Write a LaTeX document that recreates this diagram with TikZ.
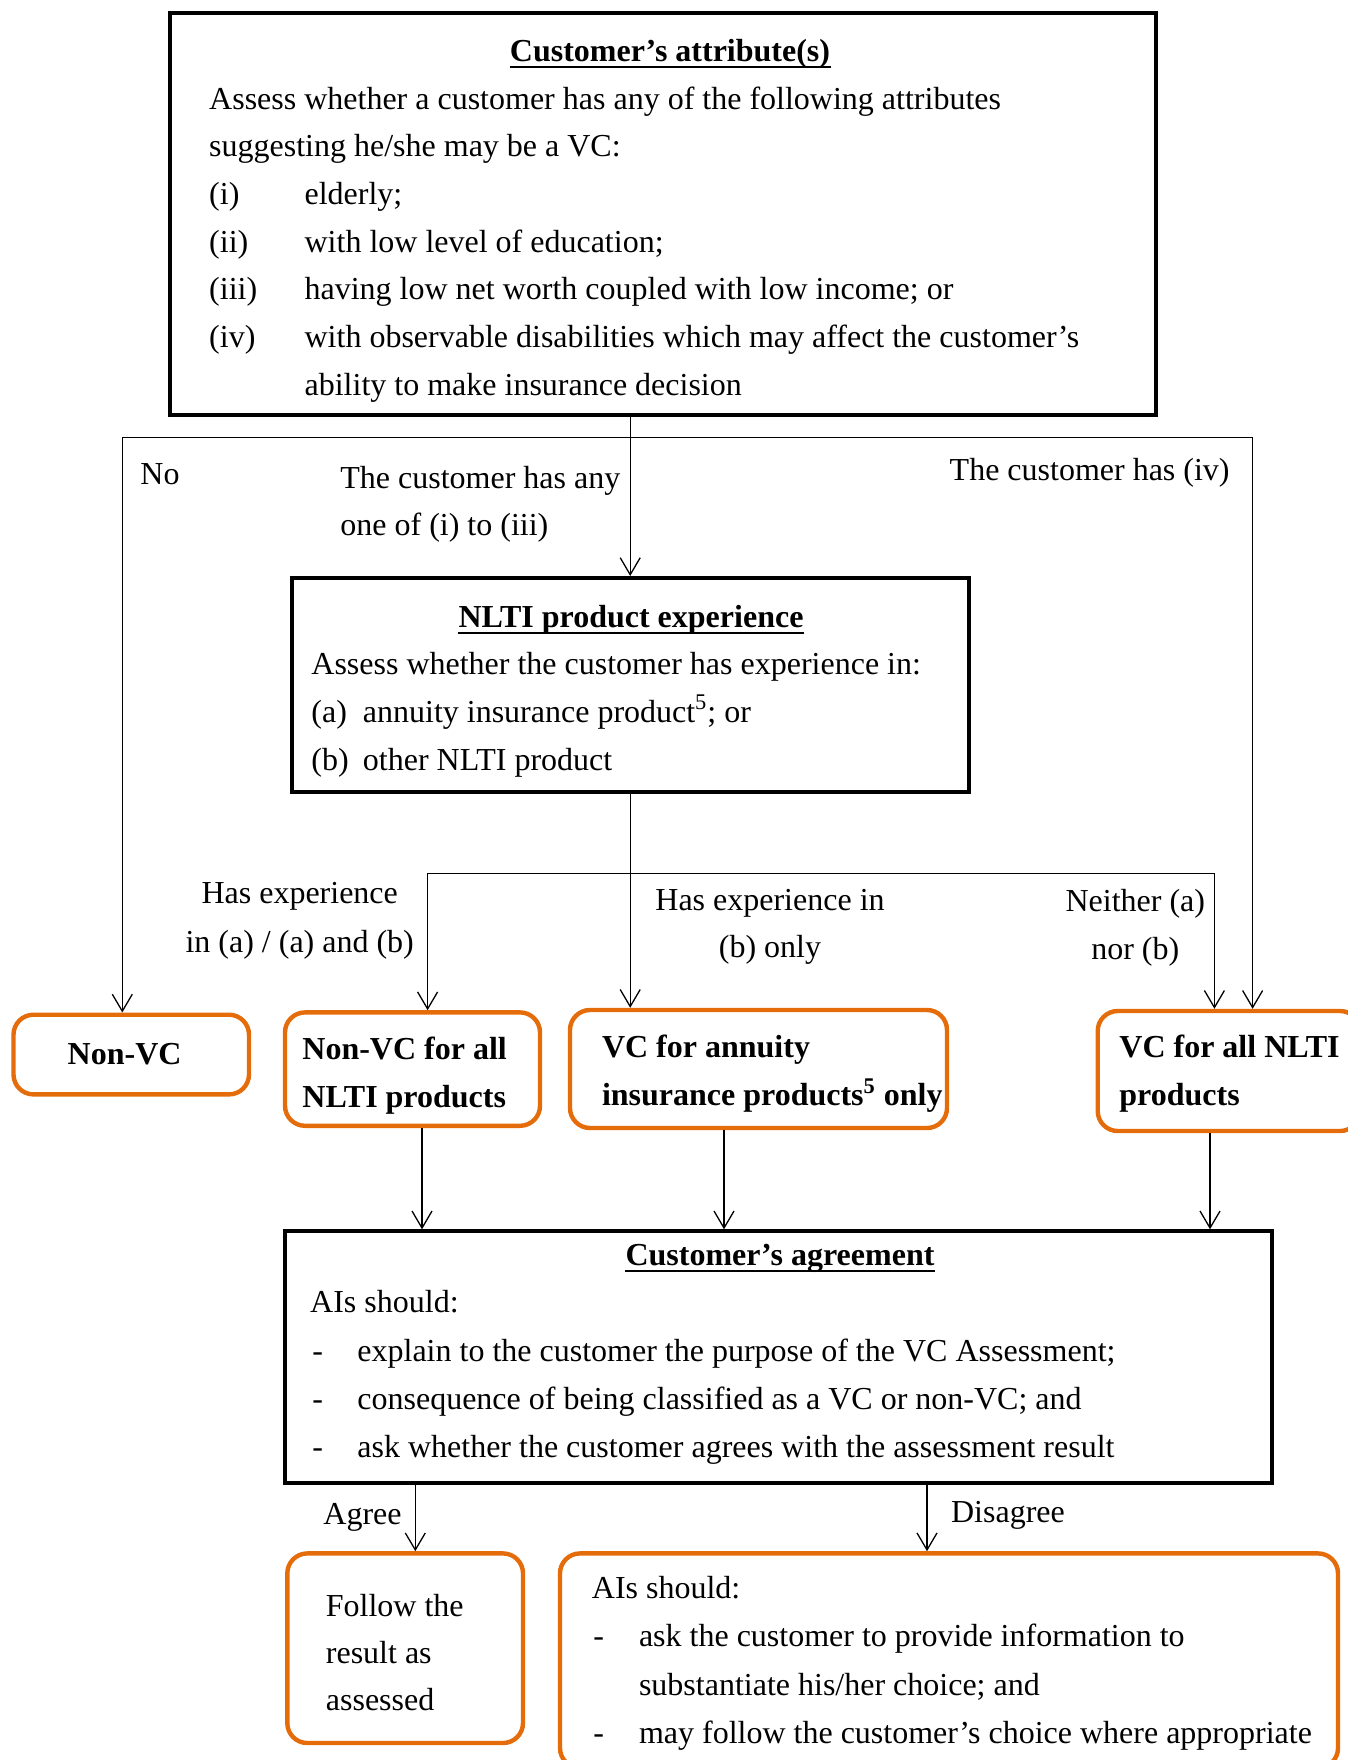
\documentclass[tikz,border=0pt]{standalone}
\usepackage{fontspec}
\setmainfont{Liberation Serif}
\usetikzlibrary{arrows.meta,fit}
\definecolor{boxorange}{RGB}{228,108,10}
\begin{document}
\begin{tikzpicture}[x=0.5pt,y=-0.5pt,
  blackbox/.style={draw=black, line width=2pt, inner sep=0pt},
  orangebox/.style={draw=boxorange, line width=2.2pt, rounded corners=10pt, inner sep=0pt},
  conn/.style={line width=0.65pt},
  arr/.style={conn, -{Straight Barb[length=8.5pt,width=10pt,line width=0.65pt]}},
  txt/.style={inner sep=0pt, anchor=base west, yshift=-1.25pt, font=\fontsize{16}{19}\selectfont},
  ctxt/.style={txt, anchor=base},
  rtxt/.style={txt, anchor=base east},
  btxt/.style={txt, font=\fontsize{16}{19}\selectfont\bfseries},
  titletxt/.style={ctxt, font=\fontsize{16}{19}\selectfont\bfseries},
  ul/.style={line width=0.8pt},
]
\useasboundingbox (0,0) rectangle (1348,1760);
\clip (0,0) rectangle (1348,1760);

% ---------- boxes ----------
\node[blackbox, fit={(169.5,13.5) (1156,415.3)}] (attr) {};
\node[blackbox, fit={(291.8,578) (968.6,792.4)}] (nlti) {};
\node[orangebox, fit={(13.5,1014.7) (249,1094.4)}] (nonvc) {};
\node[orangebox, fit={(285,1012.4) (540,1125.8)}] (nonvcall) {};
\node[orangebox, fit={(570,1010) (947,1128)}] (vcann) {};
\node[orangebox, fit={(1097.7,1011) (1360,1131)}] (vcall) {};
\node[blackbox, fit={(285,1231.3) (1271.7,1482.7)}] (agree) {};
\node[orangebox, fit={(287.3,1553.4) (523,1743)}] (follow) {};
\node[orangebox, fit={(560,1553.4) (1338,1768)}] (ais) {};

% ---------- top box text ----------
\node[titletxt] (attrT) at (670,58.9) {Customer’s attribute(s)};
\draw[ul] ([yshift=-2.8pt]attrT.base west) -- ([yshift=-2.8pt]attrT.base east);
\node[txt] (attr1) at (208.8,106.6) {Assess whether a customer has any of the following attributes};
\node[txt] (attr2) at (208.8,154.3) {suggesting he/she may be a VC:};
\node[txt] (attr3n) at (208.8,202) {(i)};
\node[txt] (attr3) at (304.2,202) {elderly;};
\node[txt] (attr4n) at (208.8,249.7) {(ii)};
\node[txt] (attr4) at (304.2,249.7) {with low level of education;};
\node[txt] (attr5n) at (208.8,297.4) {(iii)};
\node[txt] (attr5) at (304.2,297.4) {having low net worth coupled with low income; or};
\node[txt] (attr6n) at (208.8,345.1) {(iv)};
\node[txt] (attr6) at (304.2,345.1) {with observable disabilities which may affect the customer’s};
\node[txt] (attr7) at (304.2,392.8) {ability to make insurance decision};

% ---------- branch labels 1 ----------
\node[txt] (lNo) at (140,481.5) {No};
\node[txt] (lAny1) at (340,486) {The customer has any};
\node[txt] (lAny2) at (340,533) {one of (i) to (iii)};
\node[rtxt] (lIv) at (1230,478) {The customer has (iv)};

% ---------- NLTI box text ----------
\node[titletxt] (nltiT) at (631,625) {NLTI product experience};
\draw[ul] ([yshift=-2.8pt]nltiT.base west) -- ([yshift=-2.8pt]nltiT.base east);
\node[txt] (nlti1) at (311,672.3) {Assess whether the customer has experience in:};
\node[txt] (nlti2n) at (311,720) {(a)};
\node[txt] (nlti2) at (362.5,720) {annuity insurance product\textsuperscript{5}; or};
\node[txt] (nlti3n) at (311,767.7) {(b)};
\node[txt] (nlti3) at (362.5,767.7) {other NLTI product};

% ---------- branch labels 2 ----------
\node[ctxt] (lA1) at (299.7,901.3) {Has experience};
\node[ctxt] (lA2) at (299.7,949.6) {in (a) / (a) and (b)};
\node[ctxt] (lB1) at (770,908) {Has experience in};
\node[ctxt] (lB2) at (770,955) {(b) only};
\node[ctxt] (lC1) at (1135.3,909) {Neither (a)};
\node[ctxt] (lC2) at (1135.3,957.4) {nor (b)};

% ---------- orange box text ----------
\node[btxt, anchor=base] (nonvcT) at (124.6,1061.8) {Non-VC};
\node[btxt] (nonvcall1) at (302,1057.3) {Non-VC for all};
\node[btxt] (nonvcall2) at (302,1104.5) {NLTI products};
\node[btxt] (vcann1) at (601.6,1055) {VC for annuity};
\node[btxt] (vcann2) at (601.6,1103.3) {insurance products\textsuperscript{5} only};
\node[btxt] (vcall1) at (1119,1055) {VC for all NLTI};
\node[btxt] (vcall2) at (1119,1103.3) {products};

% ---------- agreement box text ----------
\node[titletxt] (agreeT) at (780,1262.7) {Customer’s agreement};
\draw[ul] ([yshift=-2.8pt]agreeT.base west) -- ([yshift=-2.8pt]agreeT.base east);
\node[txt] (agree1) at (309.8,1309.9) {AIs should:};
\node[txt] (agree2d) at (312,1359) {-};
\node[txt] (agree2) at (357,1359) {explain to the customer the purpose of the VC Assessment;};
\node[txt] (agree3d) at (312,1407) {-};
\node[txt] (agree3) at (357,1407) {consequence of being classified as a VC or non-VC; and};
\node[txt] (agree4d) at (312,1455) {-};
\node[txt] (agree4) at (357,1455) {ask whether the customer agrees with the assessment result};

% ---------- bottom labels ----------
\node[rtxt] (lAgree) at (402,1522) {Agree};
\node[txt] (lDisagree) at (950.7,1519.8) {Disagree};

% ---------- bottom boxes text ----------
\node[txt] (follow1) at (325.5,1614) {Follow the};
\node[txt] (follow2) at (325.5,1661) {result as};
\node[txt] (follow3) at (325.5,1708) {assessed};
\node[txt] (ais1) at (591.5,1596) {AIs should:};
\node[txt] (ais2d) at (593,1644.4) {-};
\node[txt] (ais2) at (638.6,1644.4) {ask the customer to provide information to};
\node[txt] (ais3) at (638.6,1692.6) {substantiate his/her choice; and};
\node[txt] (ais4d) at (593,1741) {-};
\node[txt] (ais4) at (638.6,1741) {may follow the customer’s choice where appropriate};

% ---------- connectors ----------
\coordinate (jl) at (122.3,437.7);
\coordinate (jr) at (1252.6,437.7);
\coordinate (kl) at (427.6,873.2);
\coordinate (kr) at (1214.4,873.2);
\coordinate (c1) at (422,0);
\coordinate (c2) at (724,0);
\coordinate (c3) at (1210,0);
\coordinate (c4) at (415.3,0);
\coordinate (c5) at (927,0);

\draw[arr] (nlti.north |- attr.south) -- (nlti.north);
\draw[conn] (jl) -- (jr);
\draw[arr] (jl) -- (jl |- nonvc.north);
\draw[arr] (jr) -- (jr |- vcall.north);

\draw[arr] (nlti.south) -- (nlti.south |- vcann.north);
\draw[conn] (kl) -- (kr);
\draw[arr] (kl) -- (kl |- nonvcall.north);
\draw[arr] (kr) -- (kr |- vcall.north);

\draw[arr] (nonvcall.south -| c1) -- (agree.north -| c1);
\draw[arr] (vcann.south -| c2) -- (agree.north -| c2);
\draw[arr] (vcall.south -| c3) -- (agree.north -| c3);

\draw[arr] (agree.south -| c4) -- (follow.north -| c4);
\draw[arr] (agree.south -| c5) -- (ais.north -| c5);
\end{tikzpicture}
\end{document}
